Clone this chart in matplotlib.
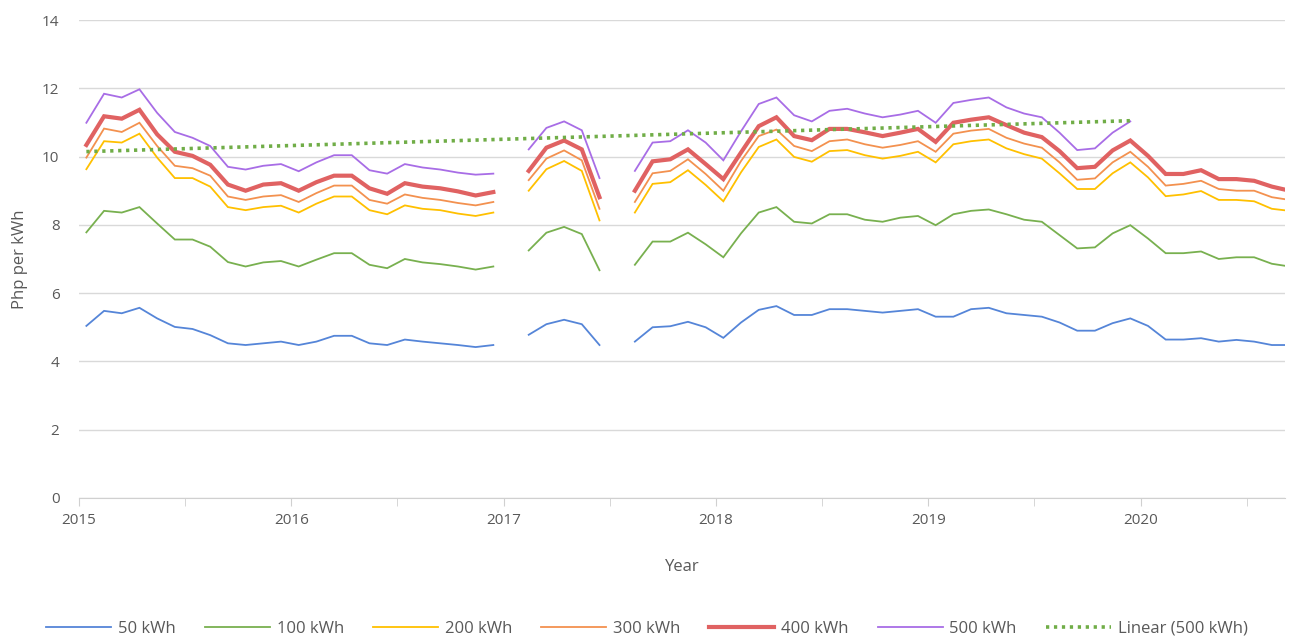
import numpy as np
import matplotlib
matplotlib.use("Agg")
import matplotlib.pyplot as plt

plt.rcParams['font.family'] = ['Open Sans', 'DejaVu Sans']

nan = np.nan
start_year = 2015
# monthly values, Jan 2015 .. Sep 2020 (nan = no data)
kwh50 = [5.04, 5.48, 5.41, 5.57, 5.26, 5.01, 4.95, 4.77, 4.53, 4.48, 4.53, 4.58,
         4.48, 4.58, 4.75, 4.75, 4.53, 4.48, 4.64, 4.58, 4.53, 4.48, 4.42, 4.48,
         nan, 4.78, 5.09, 5.22, 5.09, 4.48, nan, 4.58, 5.00, 5.03, 5.16, 5.00,
         4.69, 5.14, 5.51, 5.62, 5.36, 5.36, 5.53, 5.53, 5.48, 5.43, 5.48, 5.53,
         5.31, 5.31, 5.53, 5.57, 5.41, 5.36, 5.31, 5.14, 4.90, 4.90, 5.12, 5.26,
         5.04, 4.64, 4.64, 4.68, 4.58, 4.63, 4.58, 4.48, 4.48]
kwh100 = [7.78, 8.41, 8.36, 8.52, 8.04, 7.57, 7.57, 7.36, 6.91, 6.78, 6.90, 6.94,
          6.78, 6.98, 7.17, 7.17, 6.83, 6.73, 7.00, 6.90, 6.85, 6.78, 6.69, 6.78,
          nan, 7.25, 7.77, 7.94, 7.73, 6.67, nan, 6.83, 7.51, 7.51, 7.77, 7.43,
          7.05, 7.75, 8.36, 8.52, 8.09, 8.04, 8.31, 8.31, 8.15, 8.09, 8.21, 8.26,
          7.99, 8.31, 8.41, 8.45, 8.31, 8.15, 8.09, 7.70, 7.31, 7.34, 7.75, 7.99,
          7.60, 7.17, 7.17, 7.22, 7.00, 7.05, 7.05, 6.86, 6.78]
kwh200 = [9.63, 10.45, 10.41, 10.67, 9.97, 9.37, 9.37, 9.12, 8.52, 8.43, 8.52, 8.56,
          8.36, 8.62, 8.83, 8.83, 8.43, 8.31, 8.57, 8.47, 8.43, 8.33, 8.26, 8.36,
          nan, 9.00, 9.63, 9.87, 9.58, 8.13, nan, 8.36, 9.20, 9.25, 9.60, 9.17,
          8.69, 9.54, 10.28, 10.50, 9.99, 9.85, 10.16, 10.19, 10.04, 9.94, 10.02, 10.14,
          9.83, 10.36, 10.45, 10.50, 10.24, 10.07, 9.94, 9.51, 9.05, 9.05, 9.51, 9.83,
          9.39, 8.84, 8.89, 8.99, 8.73, 8.73, 8.69, 8.47, 8.41]
kwh300 = [9.97, 10.82, 10.72, 10.99, 10.31, 9.73, 9.66, 9.44, 8.83, 8.73, 8.83, 8.87,
          8.67, 8.93, 9.15, 9.15, 8.73, 8.62, 8.89, 8.79, 8.73, 8.64, 8.57, 8.67,
          nan, 9.31, 9.94, 10.18, 9.89, 8.47, nan, 8.67, 9.51, 9.58, 9.92, 9.49,
          9.00, 9.87, 10.60, 10.79, 10.31, 10.16, 10.45, 10.50, 10.36, 10.26, 10.34, 10.45,
          10.14, 10.67, 10.76, 10.81, 10.55, 10.38, 10.26, 9.83, 9.32, 9.36, 9.83, 10.14,
          9.70, 9.15, 9.20, 9.29, 9.05, 9.00, 9.00, 8.81, 8.73]
kwh400 = [10.34, 11.18, 11.11, 11.37, 10.65, 10.14, 10.02, 9.76, 9.18, 9.00, 9.18, 9.22,
          9.00, 9.25, 9.44, 9.44, 9.07, 8.91, 9.22, 9.12, 9.07, 8.98, 8.86, 8.96,
          nan, 9.58, 10.26, 10.47, 10.21, 8.81, nan, 9.00, 9.86, 9.92, 10.21, 9.78,
          9.34, 10.12, 10.89, 11.15, 10.60, 10.48, 10.81, 10.81, 10.71, 10.60, 10.70, 10.81,
          10.43, 10.99, 11.08, 11.15, 10.92, 10.70, 10.57, 10.16, 9.66, 9.70, 10.18, 10.47,
          10.02, 9.49, 9.49, 9.60, 9.34, 9.34, 9.29, 9.12, 9.00]
kwh500 = [10.99, 11.84, 11.73, 11.97, 11.28, 10.72, 10.55, 10.31, 9.70, 9.62, 9.73, 9.78,
          9.57, 9.83, 10.04, 10.04, 9.60, 9.50, 9.78, 9.68, 9.62, 9.53, 9.47, 9.50,
          nan, 10.21, 10.84, 11.03, 10.77, 9.37, nan, 9.58, 10.41, 10.45, 10.77, 10.41,
          9.89, 10.74, 11.54, 11.73, 11.21, 11.03, 11.34, 11.40, 11.26, 11.15, 11.23, 11.34,
          10.99, 11.57, 11.66, 11.73, 11.44, 11.26, 11.15, 10.70, 10.19, 10.24, 10.70, 11.03]

labels = ['50 kWh', '100 kWh', '200 kWh', '300 kWh', '400 kWh', '500 kWh']
series = [kwh50, kwh100, kwh200, kwh300, kwh400, kwh500]
colors = ['#5585d8', '#78b04f', '#ffc000', '#f3914f', '#e06262', '#a86de6']
widths = [1.3, 1.3, 1.3, 1.3, 3.0, 1.3]

fig = plt.figure(figsize=(12.94, 6.39), dpi=100)
ax = fig.add_axes([0.061, 0.2207, 0.932, 0.748])

txt = '#595959'
for vals, lab, c, w in zip(series, labels, colors, widths):
    y = np.array(vals, dtype=float)
    x = start_year + np.arange(len(y)) / 12 + 0.035
    ax.plot(x, y, color=c, lw=w, label=lab, solid_joinstyle='miter')

# linear trendline of the 500 kWh series
y5 = np.array(kwh500, dtype=float)
x5 = start_year + np.arange(len(y5)) / 12 + 0.035
ok = ~np.isnan(y5)
b, a = np.polyfit(x5[ok], y5[ok], 1)
tx = np.array([x5[0], x5[-1]])
ax.plot(tx, a + b * tx, color='#70ad47', lw=2.6, ls=(0, (0.9, 1.3)),
        label='Linear (500 kWh)')

ax.set_xlim(2015, 2020.68)
ax.set_ylim(0, 14)
ax.set_yticks(range(0, 15, 2))
ax.set_xticks(range(2015, 2021))
ax.set_xticks(np.arange(2015.5, 2020.6, 1), minor=True)
ax.grid(axis='y', color='#d9d9d9', lw=1)
ax.set_axisbelow(True)
for s in ['top', 'right', 'left']:
    ax.spines[s].set_visible(False)
ax.spines['bottom'].set_color('#d0d0d0')
ax.tick_params(axis='y', length=0, pad=14, labelsize=11, labelcolor=txt)
ax.tick_params(axis='x', which='both', length=6, color='#d0d0d0',
               labelsize=11, labelcolor=txt, pad=5)
ax.set_xlabel('Year', fontsize=12, color=txt, labelpad=22)
ax.set_ylabel('Php per kWh', fontsize=12, color=txt, labelpad=10)

fig.legend(loc='lower center', bbox_to_anchor=(0.5, -0.02), ncol=7,
           frameon=False, fontsize=12, handlelength=3.9, columnspacing=1.75,
           handletextpad=0.4, labelcolor=txt)

fig.savefig('out.png', dpi=100)
